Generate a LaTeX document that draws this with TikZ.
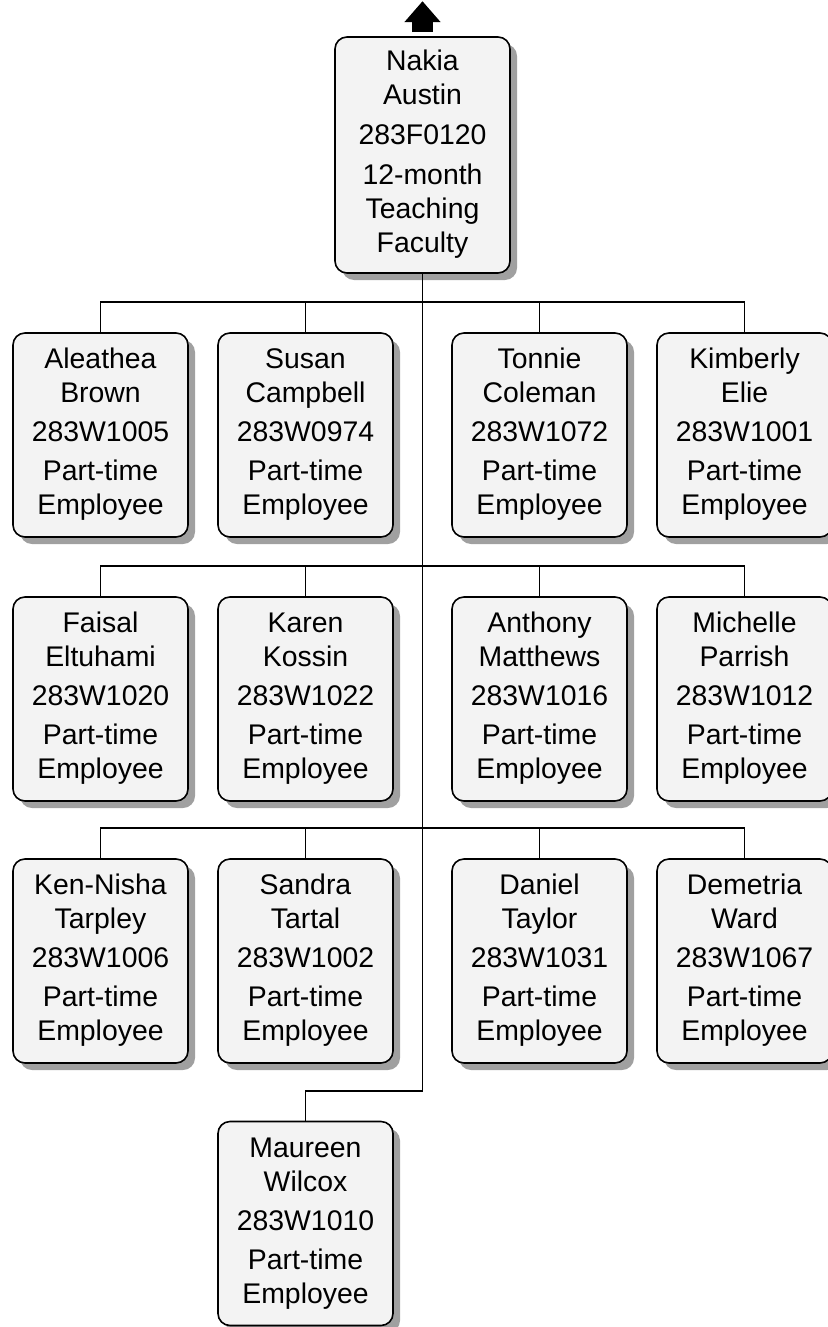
\documentclass[tikz,border=0pt]{standalone}
\usepackage{fontspec}
\setmainfont{Liberation Sans}
\usepackage{tikz}
\usetikzlibrary{arrows.meta,shadows}
\definecolor{cardfill}{RGB}{243,243,243}
\definecolor{cardshade}{RGB}{160,160,160}
\tikzset{
  card/.style={draw, line width=0.8pt, rounded corners=6pt, fill=cardfill,
    drop shadow={shadow xshift=3.5pt, shadow yshift=-3.5pt, opacity=1, fill=cardshade},
    minimum width=87.5pt, minimum height=102pt, text width=82pt, inner sep=0pt,
    align=center, font=\fontsize{14.2pt}{17pt}\selectfont,
    execute at begin node=\strut, execute at end node=\strut},
  headcard/.style={card, minimum height=118pt},
  link/.style={line width=0.8pt},
  uparrow/.style={-{Triangle[width=17.5pt,length=10.5pt]}, line width=10.5pt}
}

\begin{document}
\begin{tikzpicture}[x=0.5pt, y=-0.5pt]
    \useasboundingbox (0,0) rectangle (828,1327);
    \node[headcard] (austin) at (422.5,155) {Nakia\\Austin\\[3pt]283F0120\\[3pt]12-month\\Teaching\\Faculty};
    % row 1
    \node[card] (brown) at (100.5,435) {Aleathea\\Brown\\[2.5pt]283W1005\\[2.5pt]Part-time\\Employee};
    \node[card] (campbell) at (305.5,435) {Susan\\Campbell\\[2.5pt]283W0974\\[2.5pt]Part-time\\Employee};
    \node[card] (coleman) at (539.5,435) {Tonnie\\Coleman\\[2.5pt]283W1072\\[2.5pt]Part-time\\Employee};
    \node[card] (elie) at (744.5,435) {Kimberly\\Elie\\[2.5pt]283W1001\\[2.5pt]Part-time\\Employee};
    % row 2
    \node[card] (eltuhami) at (100.5,699) {Faisal\\Eltuhami\\[2.5pt]283W1020\\[2.5pt]Part-time\\Employee};
    \node[card] (kossin) at (305.5,699) {Karen\\Kossin\\[2.5pt]283W1022\\[2.5pt]Part-time\\Employee};
    \node[card] (matthews) at (539.5,699) {Anthony\\Matthews\\[2.5pt]283W1016\\[2.5pt]Part-time\\Employee};
    \node[card] (parrish) at (744.5,699) {Michelle\\Parrish\\[2.5pt]283W1012\\[2.5pt]Part-time\\Employee};
    % row 3
    \node[card] (tarpley) at (100.5,961) {Ken-Nisha\\Tarpley\\[2.5pt]283W1006\\[2.5pt]Part-time\\Employee};
    \node[card] (tartal) at (305.5,961) {Sandra\\Tartal\\[2.5pt]283W1002\\[2.5pt]Part-time\\Employee};
    \node[card] (taylor) at (539.5,961) {Daniel\\Taylor\\[2.5pt]283W1031\\[2.5pt]Part-time\\Employee};
    \node[card] (ward) at (744.5,961) {Demetria\\Ward\\[2.5pt]283W1067\\[2.5pt]Part-time\\Employee};
    % row 4
    \node[card] (wilcox) at (305.5,1223.5) {Maureen\\Wilcox\\[2.5pt]283W1010\\[2.5pt]Part-time\\Employee};
    \coordinate (above) at ([yshift=17.5pt]austin.north);
    \draw[uparrow] ([yshift=2pt]austin.north) -- (above);
    \foreach \who in {brown,campbell,coleman,elie,eltuhami,kossin,matthews,parrish,tarpley,tartal,taylor,ward,wilcox}
      \draw[link] (\who.north) -- ++(0pt,15pt) -| (austin.south);
  \end{tikzpicture}
\end{document}
